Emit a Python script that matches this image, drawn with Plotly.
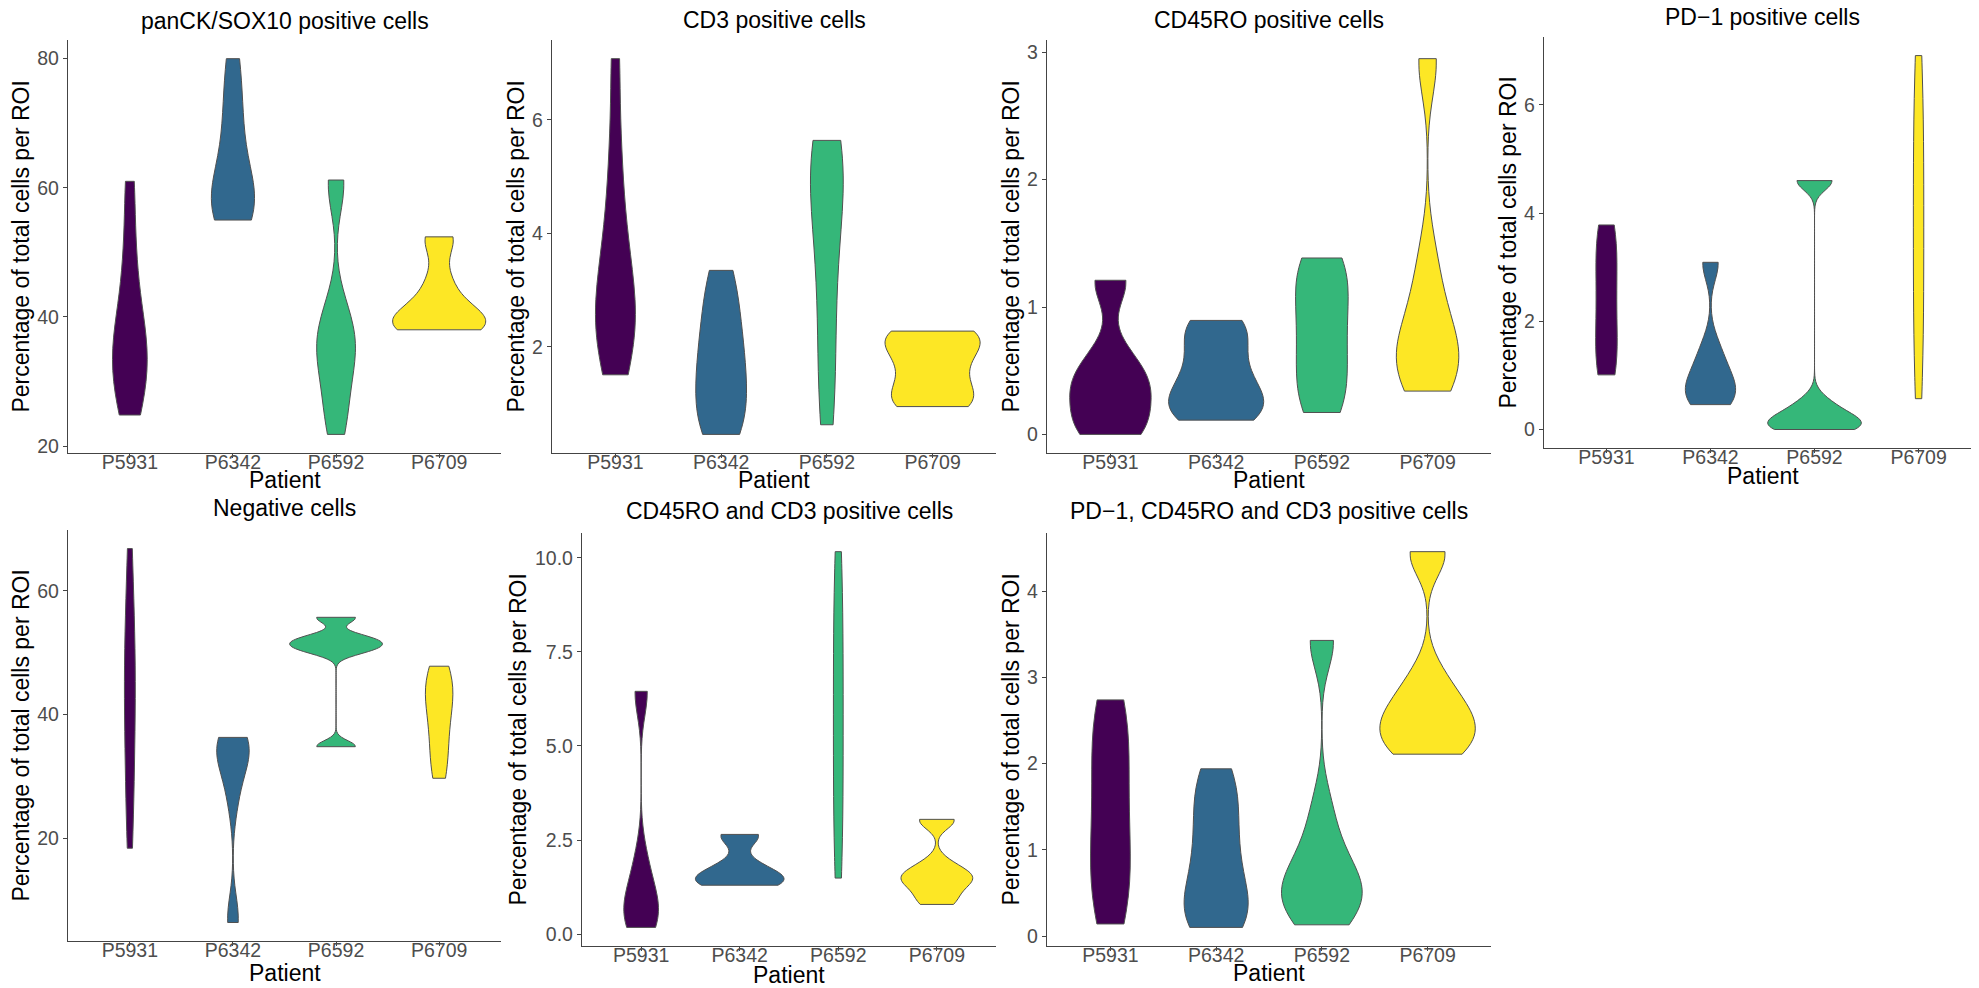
import numpy as np
import plotly.graph_objects as go
from plotly.subplots import make_subplots

# Patients and viridis colours
patients = ["P5931", "P6342", "P6592", "P6709"]
colors = ["#440154", "#31688E", "#35B779", "#FDE725"]

titles = [
    "panCK/SOX10 positive cells",
    "CD3 positive cells",
    "CD45RO positive cells",
    "PD\u22121 positive cells",
    "Negative cells",
    "CD45RO and CD3 positive cells",
    "PD\u22121, CD45RO and CD3 positive cells",
]

# Percentage of total cells per ROI, one list per patient (order as patients)
panck_sox10 = [
    [24.8, 27.5, 30.5, 33.0, 35.0, 37.0, 40.5, 45.0, 52.0, 61.0],
    [55.0, 56.0, 57.0, 58.5, 60.5, 64.0, 69.0, 74.0, 80.0],
    [21.8, 25.0, 28.5, 31.5, 34.0, 35.5, 37.0, 39.0, 42.0, 60.0, 61.2],
    [38.0, 38.1, 38.2, 38.4, 38.6, 38.9, 39.2, 39.6, 40.1, 40.8, 41.8, 43.2, 45.0, 46.8,
     51.8, 52.1, 52.4],
]
cd3 = [
    [1.51, 1.9, 2.2, 2.45, 2.7, 3.0, 3.4, 3.9, 4.6, 5.6, 7.08],
    [0.46, 0.6, 0.9, 1.2, 1.5, 1.8, 2.1, 2.5, 2.9, 3.35],
    [0.63, 1.3, 2.1, 2.9, 3.6, 4.2, 4.7, 5.05, 5.35, 5.5, 5.64],
    [0.95, 0.97, 1.05, 1.2, 1.4, 1.6, 1.8, 1.95, 2.1, 2.22, 2.26, 2.28],
]
cd45ro = [
    [0.0, 0.0, 0.02, 0.06, 0.12, 0.2, 0.28, 0.33, 0.37, 0.41, 0.45, 0.5, 0.58, 0.68, 1.18, 1.2, 1.21],
    [0.112, 0.14, 0.18, 0.23, 0.29, 0.36, 0.44, 0.54, 0.66, 0.78, 0.86, 0.895],
    [0.172, 0.25, 0.38, 0.52, 0.66, 0.8, 0.94, 1.08, 1.22, 1.33, 1.385],
    [0.34, 0.4, 0.47, 0.53, 0.6, 0.67, 0.75, 0.86, 1.0, 1.2, 1.45, 2.9, 2.95],
]
pd1 = [
    [1.01, 1.08, 1.3, 1.6, 1.9, 2.2, 2.5, 2.8, 3.1, 3.4, 3.65, 3.78],
    [0.46, 0.5, 0.58, 0.66, 0.75, 0.86, 1.0, 1.15, 1.35, 1.6, 3.05, 3.09],
    [0.0, 0.01, 0.03, 0.06, 0.09, 0.13, 0.18, 0.24, 0.32, 0.42, 0.55, 4.6, 4.6, 4.6],
    [0.57, 1.3, 2.0, 2.7, 3.4, 4.1, 4.8, 5.5, 6.2, 6.91],
]
negative = [
    [18.4, 25.0, 31.0, 36.0, 41.0, 45.0, 49.0, 53.0, 59.0, 66.8],
    [6.4, 7.6, 25.5, 29.5, 32.0, 33.5, 34.6, 35.4, 35.9, 36.3],
    [34.8, 34.9, 50.0, 50.5, 51.0, 51.4, 51.8, 52.2, 52.8, 55.6, 55.7],
    [29.7, 32.5, 35.5, 38.5, 41.0, 43.0, 44.5, 46.0, 47.8],
]
cd45ro_cd3 = [
    [0.18, 0.22, 0.4, 0.65, 0.85, 1.1, 1.5, 2.1, 6.4, 6.45],
    [1.3, 1.31, 1.32, 1.34, 1.36, 1.39, 1.42, 1.46, 1.5, 1.55, 1.6, 1.67, 1.75, 1.85, 1.95,
     2.57, 2.6, 2.62, 2.64, 2.65],
    [1.49, 2.5, 3.6, 4.7, 5.8, 6.9, 8.0, 9.1, 10.16],
    [0.79, 0.82, 0.9, 1.05, 1.2, 1.3, 1.37, 1.43, 1.48, 1.52, 1.57, 1.63, 1.7, 1.8, 1.95,
     3.0, 3.02, 3.04, 3.05],
]
pd1_cd45ro_cd3 = [
    [0.14, 0.35, 0.6, 0.85, 1.1, 1.4, 1.7, 2.0, 2.3, 2.55, 2.74],
    [0.1, 0.13, 0.18, 0.26, 0.36, 0.48, 0.62, 0.78, 0.95, 1.12, 1.3, 1.48, 1.66, 1.82, 1.94],
    [0.13, 0.22, 0.32, 0.42, 0.5, 0.58, 0.66, 0.78, 0.95, 1.2, 1.55, 3.4, 3.43],
    [2.11, 2.13, 2.18, 2.25, 2.33, 2.4, 2.47, 2.53, 2.6, 2.68, 2.78, 2.92, 3.1, 4.4, 4.44, 4.46],
]

panels = [panck_sox10, cd3, cd45ro, pd1, negative, cd45ro_cd3, pd1_cd45ro_cd3]

# y tick labels per panel
yticks = [
    [20, 40, 60, 80],
    [2, 4, 6],
    [0, 1, 2, 3],
    [0, 2, 4, 6],
    [20, 40, 60],
    [0, 2.5, 5, 7.5, 10],
    [0, 1, 2, 3, 4],
]
yticklabels = [
    ["20", "40", "60", "80"],
    ["2", "4", "6"],
    ["0", "1", "2", "3"],
    ["0", "2", "4", "6"],
    ["20", "40", "60"],
    ["0.0", "2.5", "5.0", "7.5", "10.0"],
    ["0", "1", "2", "3", "4"],
]

W, H = 1979, 988

# plot area boxes in pixels: left, right, top, bottom
boxes = [
    (60, 493, 32, 447),
    (544, 988, 32, 447),
    (1039, 1483, 32, 447),
    (1536, 1973, 29, 442),
    (60, 493, 524, 937),
    (574, 988, 527, 942),
    (1039, 1483, 527, 942),
]
# label anchors (annotation middles sit a few px off the glyph centres)
title_y = [13, 12, 12, 9, 502, 505, 505]
ytitle_x = [13, 508, 1003, 1500, 13, 510, 1003]
xtitle_y = [474, 474, 474, 470, 969, 971, 969]


def px(x):
    return x / W


def py(y):
    return 1 - y / H


def nrd0(v):
    # R's default bandwidth (bw.nrd0), as used by ggplot2
    v = np.asarray(v, dtype=float)
    sd = np.std(v, ddof=1)
    iqr = np.subtract(*np.percentile(v, [75, 25]))
    lo = min(sd, iqr / 1.34)
    if lo <= 0:
        lo = sd if sd > 0 else 1.0
    return 0.9 * lo * len(v) ** (-0.2)


FONT = "Liberation Sans, Arial, Helvetica, sans-serif"
AXIS_COL = "#444444"
TICK_FONT = dict(family=FONT, size=19.5, color="#4D4D4D")
LAB_FONT = dict(family=FONT, size=23, color="black")

fig = make_subplots(rows=2, cols=4)

cells = [(1, 1), (1, 2), (1, 3), (1, 4), (2, 1), (2, 2), (2, 3)]
annotations = []
for i, (data, (r, c)) in enumerate(zip(panels, cells)):
    sp = fig.get_subplot(r, c)
    xa = sp.xaxis.plotly_name
    ya = sp.yaxis.plotly_name
    for j, vals in enumerate(data):
        fig.add_trace(go.Violin(
            x=[patients[j]] * len(vals),
            y=vals,
            spanmode="hard",
            bandwidth=nrd0(vals),
            scalegroup="g%d" % i,   # same density scale -> equal areas
            scalemode="width",
            fillcolor=colors[j],
            line=dict(color="#505050", width=1),
            points=False,
            box_visible=False,
            meanline_visible=False,
            showlegend=False,
            name=patients[j],
        ), row=r, col=c)

    allv = np.concatenate([np.asarray(v, dtype=float) for v in data])
    lo, hi = allv.min(), allv.max()
    pad = (hi - lo) * 0.05
    x0, x1, yt, yb = boxes[i]

    fig.layout[xa].update(
        domain=[px(x0), px(x1)],
        type="category",
        categoryorder="array",
        categoryarray=patients,
        range=[-0.6, 3.6],
        showline=True, linecolor=AXIS_COL, linewidth=1.3,
        ticks="outside", ticklen=4, tickcolor=AXIS_COL, tickwidth=1.2,
        ticklabelstandoff=-13,
        tickfont=TICK_FONT,
        showgrid=False, zeroline=False,
    )
    fig.layout[ya].update(
        domain=[py(yb), py(yt)],
        range=[lo - pad, hi + pad],
        tickvals=yticks[i], ticktext=yticklabels[i],
        showline=True, linecolor=AXIS_COL, linewidth=1.3,
        ticks="outside", ticklen=4, tickcolor=AXIS_COL, tickwidth=1.2,
        tickfont=TICK_FONT,
        showgrid=False, zeroline=False,
    )

    cx = px((x0 + x1) / 2)
    cy = py((yt + yb) / 2)
    annotations.append(dict(text=titles[i], x=cx, y=py(title_y[i]),
                            xref="paper", yref="paper", showarrow=False,
                            xanchor="center", yanchor="middle", font=LAB_FONT))
    annotations.append(dict(text="Percentage of total cells per ROI",
                            x=px(ytitle_x[i]), y=cy, textangle=-90,
                            xref="paper", yref="paper", showarrow=False,
                            xanchor="center", yanchor="middle", font=LAB_FONT))
    annotations.append(dict(text="Patient", x=cx, y=py(xtitle_y[i]),
                            xref="paper", yref="paper", showarrow=False,
                            xanchor="center", yanchor="middle", font=LAB_FONT))

# the unused 8th cell
fig.layout["xaxis8"].update(visible=False)
fig.layout["yaxis8"].update(visible=False)

fig.update_layout(
    width=W, height=H, autosize=False,
    margin=dict(l=0, r=0, t=0, b=0),
    paper_bgcolor="white", plot_bgcolor="white",
    violinmode="overlay",
    violingap=0.1, violingroupgap=0,
    annotations=annotations,
    font=dict(family=FONT),
)

fig.write_html("out.html")
